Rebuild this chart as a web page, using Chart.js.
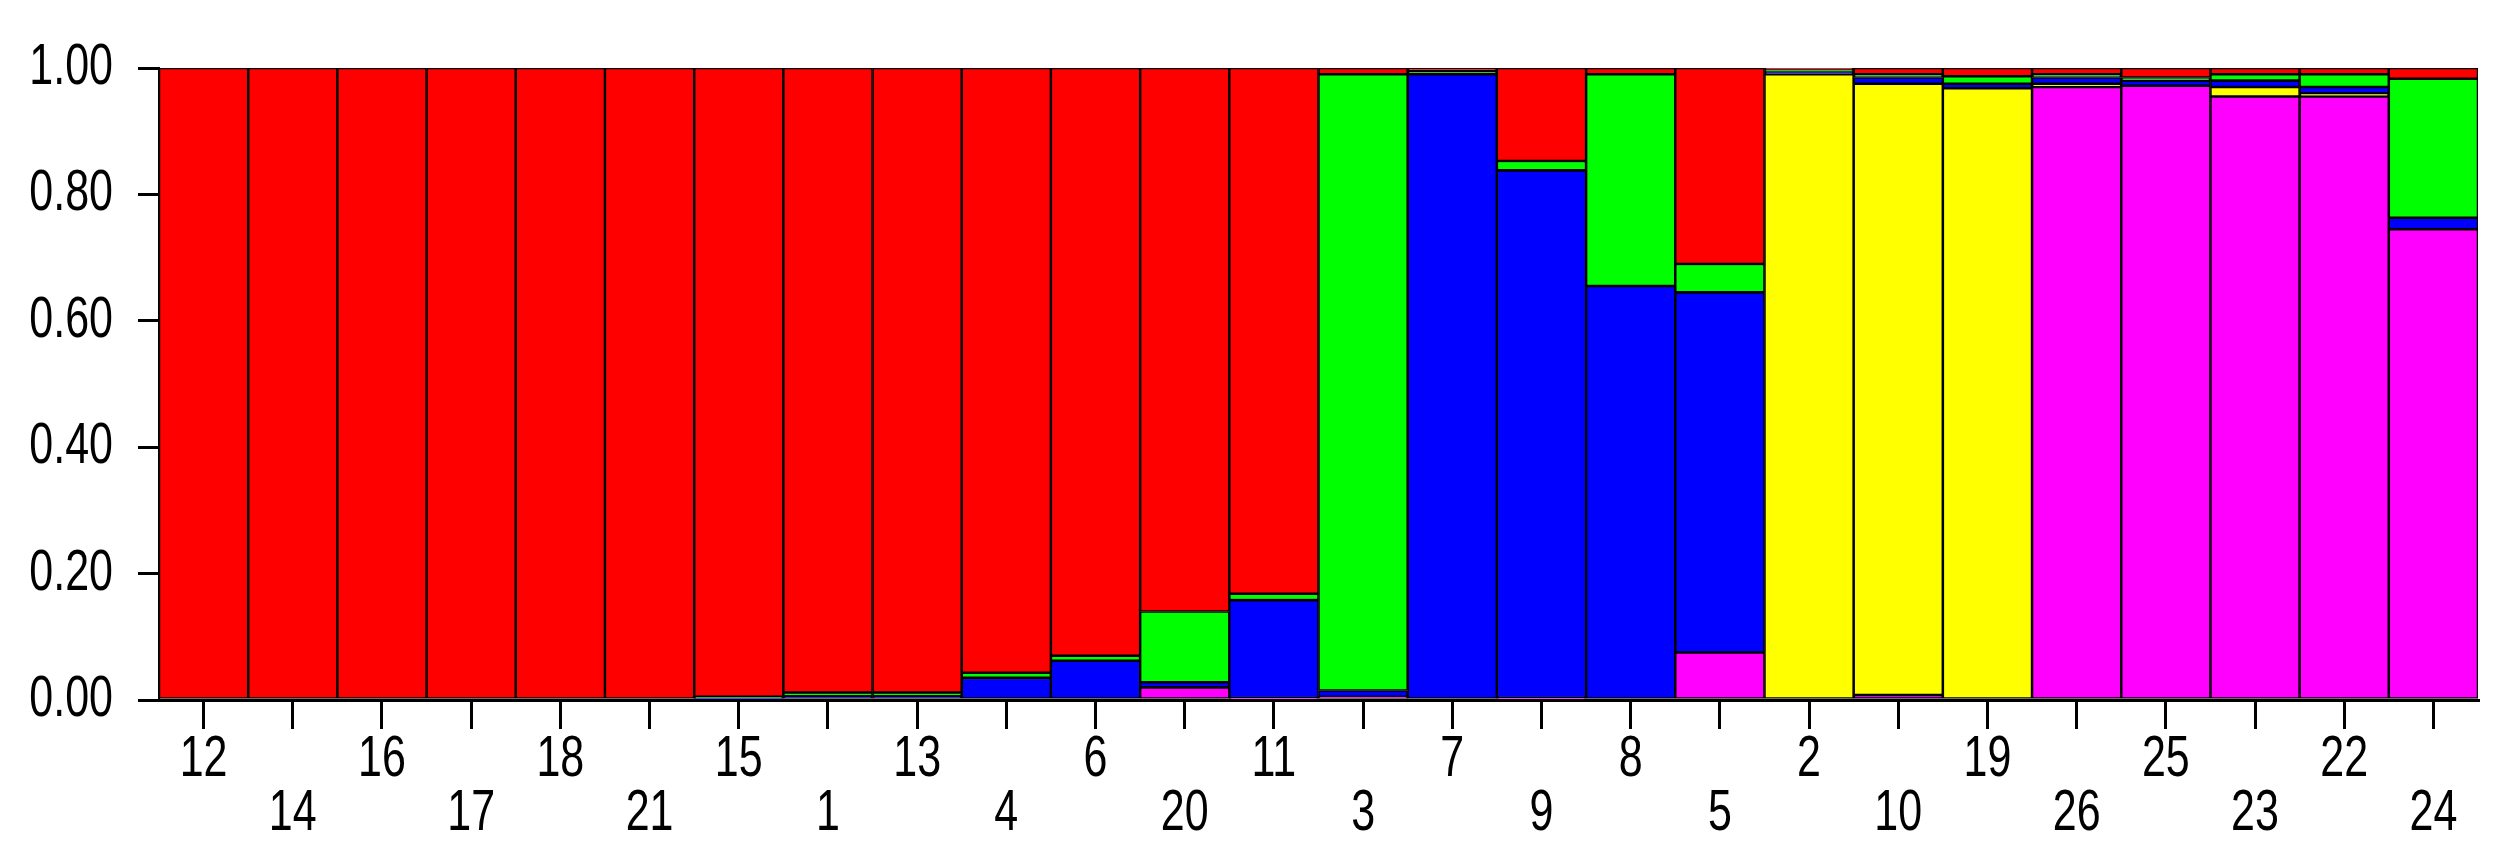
<!DOCTYPE html>
<html>
<head>
<meta charset="utf-8">
<script src="https://cdn.jsdelivr.net/npm/chart.js@4/dist/chart.umd.min.js"></script>
<style>
    body { margin: 0; background: #fff; }
</style>
</head>
<body>
<canvas id="graficoEstrutura" width="2506" height="859"></canvas>
<script>
// Indivíduos na ordem do gráfico
const individuos = ['12', '14', '16', '17', '18', '21', '15', '1', '13', '4', '6', '20', '11',
    '3', '7', '9', '8', '5', '2', '10', '19', '26', '25', '23', '22', '24'];

// Proporção de cada grupo (de baixo para cima)
const grupoMagenta = [0, 0, 0, 0, 0, 0, 0, 0, 0, 0, 0, 0.02, 0.003,
    0.005, 0, 0.003, 0, 0.075, 0, 0.008, 0, 0.97, 0.972, 0.955, 0.955, 0.745];
const grupoAmarelo = [0, 0, 0, 0, 0, 0, 0, 0, 0, 0, 0, 0, 0,
    0, 0, 0, 0, 0, 0.99, 0.967, 0.968, 0.005, 0, 0.015, 0.005, 0];
const grupoAzul = [0, 0, 0, 0, 0, 0, 0.003, 0.006, 0.006, 0.035, 0.062, 0.008, 0.155,
    0.01, 0.99, 0.835, 0.655, 0.57, 0.004, 0.01, 0.007, 0.01, 0.008, 0.01, 0.01, 0.018];
const grupoVerde = [0, 0, 0, 0, 0, 0, 0.002, 0.006, 0.006, 0.008, 0.008, 0.112, 0.01,
    0.975, 0.005, 0.015, 0.335, 0.045, 0.003, 0.005, 0.012, 0.005, 0.005, 0.01, 0.02, 0.22];
const grupoVermelho = [1, 1, 1, 1, 1, 1, 0.995, 0.988, 0.988, 0.957, 0.93, 0.86, 0.832,
    0.01, 0.005, 0.147, 0.01, 0.31, 0.003, 0.01, 0.013, 0.01, 0.015, 0.01, 0.01, 0.017];

const marcasY = [0, 0.2, 0.4, 0.6, 0.8, 1.0];

// rótulos alternando entre duas linhas
const rotulos = individuos.map((nome, i) => (i % 2 === 0 ? [nome] : ['', nome]));

const fonte = "'Liberation Sans', Arial, sans-serif";

// o texto original é mais alto do que largo: estica na vertical
function esticarTexto(escala) {
    if (escala._esticado) return;
    escala._esticado = true;
    const desenhar = escala.drawLabels.bind(escala);
    escala.drawLabels = function (area) {
        const c = escala.ctx;
        const fill = c.fillText;
        c.fillText = function (t, x, y) {
            c.save();
            c.translate(x, y);
            c.scale(1, 1.35);
            fill.call(c, t, 0, 0);
            c.restore();
        };
        desenhar(area);
        c.fillText = fill;
    };
}

function serie(valores, cor) {
    return {
        data: valores,
        backgroundColor: cor,
        borderColor: '#000',
        borderWidth: 1.6,
        borderSkipped: false,
        barPercentage: 1,
        categoryPercentage: 1
    };
}

const ctx = document.getElementById('graficoEstrutura').getContext('2d');
new Chart(ctx, {
    type: 'bar',
    data: {
        labels: rotulos,
        datasets: [
            serie(grupoMagenta, '#ff00ff'),
            serie(grupoAmarelo, '#ffff00'),
            serie(grupoAzul, '#0000ff'),
            serie(grupoVerde, '#00ff00'),
            serie(grupoVermelho, '#ff0000')
        ]
    },
    options: {
        responsive: false,
        animation: false,
        layout: { padding: { top: 68, right: 28, left: 0, bottom: 0 } },
        plugins: { legend: { display: false }, tooltip: { enabled: false } },
        scales: {
            x: {
                stacked: true,
                afterFit: (s) => { s.height = 159; },
                afterUpdate: esticarTexto,
                grid: { offset: false, drawOnChartArea: false, drawTicks: true, tickLength: 29, color: '#000', lineWidth: 3 },
                border: { display: true, color: '#000', width: 3 },
                ticks: {
                    color: '#000',
                    padding: 4,
                    maxRotation: 0,
                    autoSkip: false,
                    font: { family: fonte, size: 43, lineHeight: 1.256 }
                }
            },
            y: {
                stacked: true,
                min: 0,
                max: 1,
                afterFit: (s) => { s.width = 159; },
                afterUpdate: esticarTexto,
                afterBuildTicks: (s) => { s.ticks = marcasY.map(v => ({ value: v })); },
                grid: { drawOnChartArea: false, drawTicks: true, tickLength: 21, color: '#000', lineWidth: 3 },
                border: { display: true, color: '#000', width: 2 },
                ticks: {
                    color: '#000',
                    padding: 25,
                    font: { family: fonte, size: 43 },
                    callback: (v) => Number(v).toFixed(2)
                }
            }
        }
    }
});
</script>
</body>
</html>
